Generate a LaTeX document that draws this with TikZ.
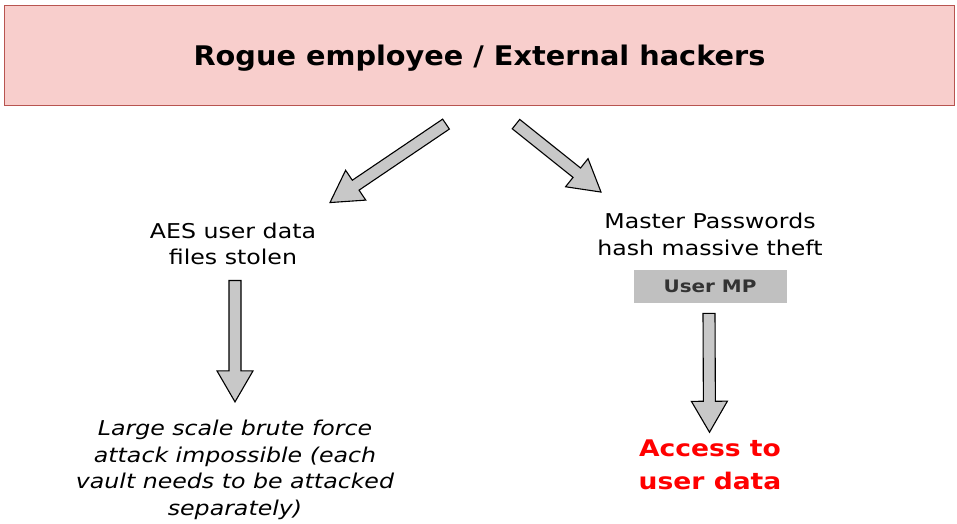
\documentclass[tikz,border=0pt]{standalone}
\usepackage{fontspec}
\setmainfont{DejaVu Sans}[FakeStretch=1.16]
\newfontfamily\headfont{DejaVu Sans}[FakeStretch=1.065]
\usepackage{xcolor}
\usepackage{tikz}
\usetikzlibrary{positioning, calc}

\definecolor{hackfill}{HTML}{F8CECC}
\definecolor{hackline}{HTML}{B85450}
\definecolor{arrowgray}{HTML}{C8C8C8}
\definecolor{keygray}{HTML}{C0C0C0}
\definecolor{keytext}{HTML}{333333}

% fat block arrow from #1 to #2
\newcommand{\fatarrow}[2]{%
  \coordinate (headbase) at ($(#2)!31pt!(#1)$);
  \draw[blockarrow] ($(#1)!6pt!90:(#2)$) -- ($(headbase)!6pt!90:(#2)$)
    -- ($(headbase)!18pt!90:(#2)$) -- (#2) -- ($(headbase)!18pt!-90:(#2)$)
    -- ($(headbase)!6pt!-90:(#2)$) -- ($(#1)!6pt!-90:(#2)$) -- cycle;
}

\begin{document}
\begin{tikzpicture}[x=1pt, y=-1pt,
  titlebox/.style={
    rectangle, draw=hackline, fill=hackfill, line width=1.2pt,
    minimum width=950pt, minimum height=100pt, text depth=0pt,
    font=\headfont\fontsize{27}{32}\selectfont\bfseries
  },
  note/.style={
    align=center, inner sep=0pt, font=\fontsize{20.4}{26.7}\selectfont
  },
  verdict/.style={
    note, font=\fontsize{20.4}{26.7}\selectfont\itshape
  },
  keybox/.style={
    rectangle, fill=keygray, minimum width=153pt, minimum height=33pt,
    inner sep=0pt, text=keytext, font=\fontsize{17.2}{20}\selectfont\bfseries
  },
  result/.style={
    align=center, inner sep=0pt, text=red,
    font=\fontsize{22.9}{33.3}\selectfont\bfseries
  },
  blockarrow/.style={
    draw=black, fill=arrowgray, line width=1.1pt, line join=miter
  }
]
\useasboundingbox (0,0) rectangle (957,523);

% Threat source
\node[titlebox] (attackers) at (479.5,55.5) {Rogue employee / External hackers};

% Left branch: encrypted vaults
\node[note] (aesfiles) at (233,244) {AES user data\\files stolen};
\node[verdict] (bruteforce) at (235,470) {Large scale brute force\\attack impossible (each\\vault needs to be attacked\\separately)};

% Right branch: password hashes
\node[note] (mphash) at (710,234.5) {Master Passwords\\hash massive theft};
\node[keybox, below=14pt of mphash] (usermp) {User MP};
\node[result] (userdata) at (710,464.6) {Access to\\user data};

% Arrow ends
\coordinate (ltail) at ($(attackers.south)+(-33.5,18)$);
\coordinate (rtail) at ($(attackers.south)+(36.5,18)$);
\coordinate (ltip) at ($(aesfiles.north)+(97,-20)$);
\coordinate (rtip) at ($(mphash.north)+(-109,-21)$);
\coordinate (ldown) at ($(aesfiles.south)+(2,15)$);
\coordinate (lend) at ($(bruteforce.north)+(0,-18)$);
\coordinate (rdown) at ($(usermp.south)+(-1,10)$);
\coordinate (rend) at ($(userdata.north)+(-0.5,-7)$);

% Block arrows
\fatarrow{ltail}{ltip}
\fatarrow{rtail}{rtip}
\fatarrow{ldown}{lend}
\fatarrow{rdown}{rend}

\end{tikzpicture}
\end{document}
